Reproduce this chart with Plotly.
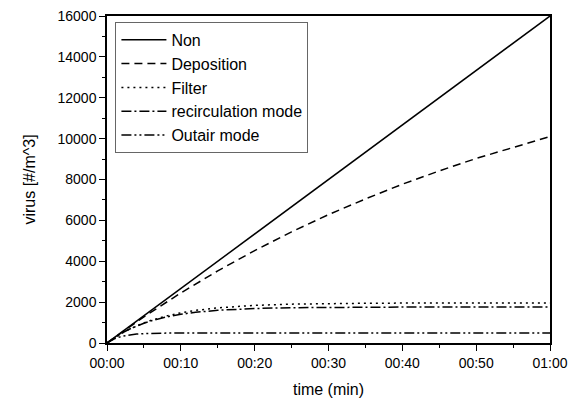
import plotly.graph_objects as go

# time in minutes
t_non = [0, 10, 20, 30, 40, 50, 60]
v_non = [0, 2667, 5333, 8000, 10667, 13333, 16000]

t_dep = [0, 5, 10, 15, 20, 25, 30, 35, 40, 45, 50, 55, 60]
v_dep = [0, 1280, 2450, 3530, 4520, 5440, 6280, 7050, 7770, 8420, 9030, 9580, 10100]

t_sat = [0, 1, 2, 3, 4, 5, 6, 8, 10, 12, 15, 20, 25, 30, 35, 40, 45, 50, 55, 60]
v_filter = [0, 256, 479, 672, 840, 987, 1113, 1320, 1477, 1595, 1720, 1841, 1901, 1931, 1945, 1953, 1957, 1958, 1959, 1960]
v_recirc = [0, 260, 482, 671, 832, 969, 1086, 1271, 1405, 1502, 1600, 1688, 1728, 1746, 1753, 1757, 1758, 1759, 1760, 1760]
v_outair = [0, 207, 327, 396, 436, 459, 472, 484, 488, 490, 490, 490, 490, 490, 490, 490, 490, 490, 490, 490]

series_names = ["Non", "Deposition", "Filter", "recirculation mode", "Outair mode"]
x_tickvals = [0, 10, 20, 30, 40, 50, 60]
x_ticktext = ["00:00", "00:10", "00:20", "00:30", "00:40", "00:50", "01:00"]

dashes = ["solid", "8px,5px", "2px,4px", "10px,3px,2px,3px", "10px,3px,2px,3px,2px,3px"]
data = [(t_non, v_non), (t_dep, v_dep), (t_sat, v_filter), (t_sat, v_recirc), (t_sat, v_outair)]

fig = go.Figure()
for (x, y), name, d in zip(data, series_names, dashes):
    fig.add_trace(go.Scatter(x=x, y=y, mode="lines", name=name,
                             line=dict(color="black", width=1.5, dash=d)))

font_family = "Liberation Sans, Arial, sans-serif"
fig.update_layout(
    width=575, height=398,
    margin=dict(l=107, r=25, t=16, b=55),
    paper_bgcolor="white", plot_bgcolor="white",
    font=dict(family=font_family, color="black", size=14),
    showlegend=True,
    legend=dict(x=0.019, y=0.982, xanchor="left", yanchor="top",
                bordercolor="#666666", borderwidth=1, bgcolor="white",
                font=dict(size=16, family=font_family), tracegroupgap=0,
                itemwidth=45),
)
fig.update_xaxes(
    range=[0, 60], tickvals=x_tickvals, ticktext=x_ticktext, automargin=False,
    showgrid=False, zeroline=False, showline=True, linecolor="black", linewidth=1.5,
    mirror=True, ticks="outside", ticklen=6, tickwidth=1.2, tickcolor="black",
    minor=dict(dtick=5, tick0=0, ticks="outside", ticklen=3, tickwidth=1, tickcolor="black", showgrid=False),
    tickfont=dict(size=14),
    title=dict(text="time (min)", font=dict(size=16), standoff=14),
)
fig.update_yaxes(
    range=[0, 16000], dtick=2000, tick0=0, tickformat="d", automargin=False,
    showgrid=False, zeroline=False, showline=True, linecolor="black", linewidth=1.5,
    mirror=True, ticks="outside", ticklen=6, tickwidth=1.2, tickcolor="black",
    minor=dict(dtick=1000, tick0=0, ticks="outside", ticklen=3, tickwidth=1, tickcolor="black", showgrid=False),
    tickfont=dict(size=14),
    title=dict(text="virus [#/m^3]", font=dict(size=16), standoff=18),
)

fig.write_html("out.html")
